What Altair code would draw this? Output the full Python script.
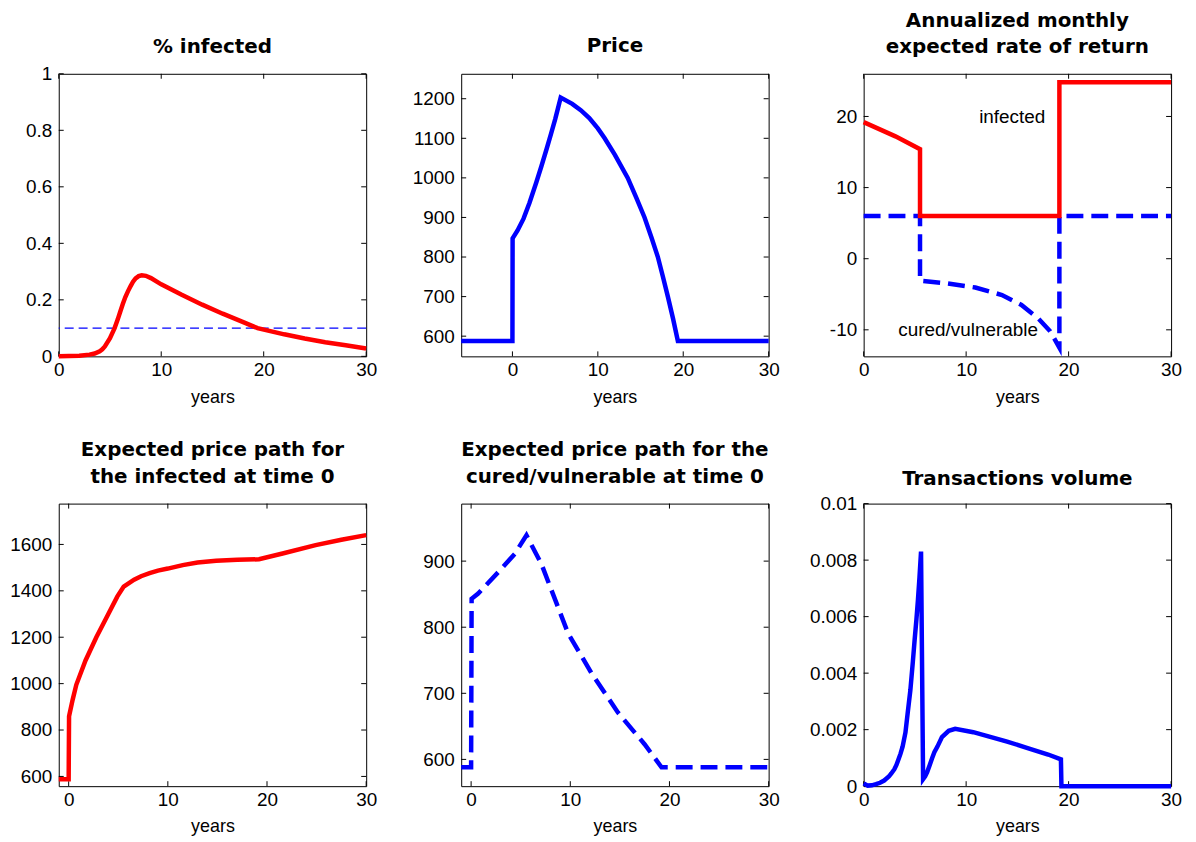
import altair as alt
import pandas as pd

# ---------------- data ----------------
# Panel 1: % infected
inf_t = [0, 1, 2, 3, 3.5, 4, 4.25, 4.5, 5, 5.45, 5.75, 6, 6.25, 6.5, 6.75, 7, 7.25, 7.5, 7.8, 8.1, 8.5, 9, 10,
         12, 14, 16, 18, 19.4, 22, 24, 26, 28, 30]
inf_v = [0.0, 0.001, 0.002, 0.006, 0.01, 0.018, 0.025, 0.035, 0.064, 0.1, 0.13, 0.158, 0.185, 0.21, 0.23, 0.248,
         0.264, 0.276, 0.284, 0.287, 0.285, 0.277, 0.255, 0.218, 0.183, 0.151, 0.121, 0.1, 0.078, 0.063, 0.05,
         0.039, 0.028]
inf_threshold = [0.1]

# Panel 2: Price
price_t = [-6, 0, 0.02, 0.6, 1.3, 2.0, 2.8, 3.4, 4.0, 4.5, 5.0, 5.3, 5.65, 7.0, 8.0, 9.0, 10.0, 10.8, 12.0,
           13.5, 14.5, 15.47, 16.3, 17.03, 17.6, 18.2, 18.8, 19.37, 30]
price_v = [588, 588, 847, 867, 897, 937, 989, 1030, 1073, 1110, 1148, 1173, 1203, 1187, 1171, 1151, 1125, 1100,
           1058, 1000, 950, 900, 848, 800, 752, 700, 645, 588, 588]

# Panel 3: annualized monthly expected rate of return
ret_inf_t = [0, 3.1, 5.5, 5.5, 19.1, 19.1, 30]
ret_inf_v = [19.2, 17.2, 15.4, 6.0, 6.0, 24.8, 24.8]
ret_cur_t = [0, 5.5, 5.5, 8.0, 10.9, 13.5, 15.4, 17.0, 18.2, 19.1, 19.1, 30]
ret_cur_v = [6.0, 6.0, -3.1, -3.45, -4.05, -5.1, -6.5, -8.35, -10.2, -12.5, 6.0, 6.0]
ret_labels = ["infected", "cured/vulnerable"]
ret_label_t = [14.5, 10.2]
ret_label_v = [19.9, -10.0]

# Panel 4: expected price path for the infected at time 0
pi_t = [-1, 0, 0.04, 0.4, 0.77, 1.7, 2.79, 4.0, 4.9, 5.55, 6.6, 7.3, 8.16, 9, 10, 11.5, 13, 14.87, 17, 19.2,
        21.57, 24.9, 27.5, 30]
pi_v = [588, 588, 859, 930, 995, 1100, 1200, 1300, 1375, 1418, 1448, 1463, 1476, 1487, 1496, 1511, 1522, 1530,
        1534, 1536, 1561, 1597, 1620, 1640]

# Panel 5: expected price path for the cured/vulnerable at time 0
pc_t = [-1, 0, 0.05, 0.71, 2.72, 4.4, 5.58, 7.08, 9.77, 12.12, 14.8, 17.49, 19.2, 30]
pc_v = [588, 588, 843, 851, 883, 911, 939, 896, 791, 731, 671, 623, 588, 588]

# Panel 6: transactions volume
tv_t = [0, 0.4, 0.8, 1.2, 1.6, 2.0, 2.2, 2.46, 2.7, 3.0, 3.2, 3.43, 3.6, 3.8, 4.08, 4.3, 4.56, 4.8, 4.98, 5.15,
        5.3, 5.45, 5.6, 5.8, 6.0, 6.2, 6.45, 6.67, 6.9, 7.2, 7.64, 8.3, 8.93, 10.7, 12, 14, 16, 18, 19.25, 19.3, 30]
tv_v = [0.0001, 0.00002, 0.00003, 0.00007, 0.00012, 0.0002, 0.00026, 0.00034, 0.00045, 0.0006, 0.00075,
        0.00098, 0.00115, 0.0014, 0.0019, 0.0026, 0.0034, 0.0044, 0.0052, 0.0059, 0.0066, 0.0074, 0.0083,
        0.00025, 0.00035, 0.0005, 0.00075, 0.00098, 0.0012, 0.0014, 0.00174, 0.00196, 0.00203, 0.00191,
        0.00178, 0.00158, 0.00135, 0.00112, 0.00095, 0.0, 0.0]

# axis ticks
xt_years = [0, 10, 20, 30]
yt_inf = [0, 0.2, 0.4, 0.6, 0.8, 1]
yt_price = [600, 700, 800, 900, 1000, 1100, 1200]
yt_ret = [-10, 0, 10, 20]
yt_pi = [600, 800, 1000, 1200, 1400, 1600]
yt_pc = [600, 700, 800, 900]
yt_tv = [0, 0.002, 0.004, 0.006, 0.008, 0.01]

# ---------------- style ----------------
FONT = "Liberation Sans"
TFONT = "DejaVu Sans"
W, H = 309, 284
TICK = 5
RED = "#ff0000"
BLUE = "#0000ff"
LW = 4.5
DASH = [17, 8]


def series(t, v):
    return pd.DataFrame({"t": t, "v": v, "i": list(range(len(t)))})


def xaxis(vals):
    return alt.Axis(values=vals, title="years", labelExpr="'' + datum.value")


def yaxis(vals):
    return alt.Axis(values=vals, title=None, labelExpr="'' + datum.value")


def tick_layers(xt, yt, xs, ys):
    dx = pd.DataFrame({"v": xt})
    dy = pd.DataFrame({"v": yt})
    r = dict(color="black", strokeWidth=1)
    bottom = alt.Chart(dx).mark_rule(**r).encode(
        x=alt.X("v:Q", scale=xs, axis=xaxis(xt)), y=alt.value(H), y2=alt.value(H - TICK))
    top = alt.Chart(dx).mark_rule(**r).encode(
        x=alt.X("v:Q", scale=xs, axis=xaxis(xt)), y=alt.value(0), y2=alt.value(TICK))
    left = alt.Chart(dy).mark_rule(**r).encode(
        y=alt.Y("v:Q", scale=ys, axis=yaxis(yt)), x=alt.value(0), x2=alt.value(TICK))
    right = alt.Chart(dy).mark_rule(**r).encode(
        y=alt.Y("v:Q", scale=ys, axis=yaxis(yt)), x=alt.value(W), x2=alt.value(W - TICK))
    return [bottom, top, left, right]


def line(df, xs, ys, xt, yt, color, dash=None):
    kw = dict(color=color, strokeWidth=LW)
    if dash is not None:
        kw["strokeDash"] = dash
    return alt.Chart(df).mark_line(**kw).encode(
        x=alt.X("t:Q", scale=xs, axis=xaxis(xt)),
        y=alt.Y("v:Q", scale=ys, axis=yaxis(yt)),
        order=alt.Order("i:Q"),
    )


def panel(title, layers, offset=17):
    return alt.layer(*layers).properties(
        width=W, height=H, title=alt.TitleParams(text=title, offset=offset))


def sc(lo, hi):
    return alt.Scale(domain=[lo, hi], nice=False, zero=False)


# Panel 1
xs1, ys1 = sc(0, 30), sc(0, 1)
p1_thr = alt.Chart(pd.DataFrame({"v": inf_threshold})).mark_rule(
    color=BLUE, strokeWidth=1.3, strokeDash=[9, 5]).encode(y=alt.Y("v:Q", scale=ys1, axis=yaxis(yt_inf)))
p1 = panel("% infected", tick_layers(xt_years, yt_inf, xs1, ys1) + [
    p1_thr, line(series(inf_t, inf_v), xs1, ys1, xt_years, yt_inf, RED)], offset=8)

# Panel 2
xs2, ys2 = sc(-6, 30), sc(549, 1263)
p2 = panel("Price", tick_layers(xt_years, yt_price, xs2, ys2) + [
    line(series(price_t, price_v), xs2, ys2, xt_years, yt_price, BLUE)], offset=17)

# Panel 3
xs3, ys3 = sc(0, 30), sc(-13.73, 26)
p3_text = alt.Chart(pd.DataFrame({"t": ret_label_t, "v": ret_label_v, "lab": ret_labels})).mark_text(
    font=FONT, fontSize=19, color="black", align="center", baseline="middle").encode(
    x=alt.X("t:Q", scale=xs3, axis=xaxis(xt_years)), y=alt.Y("v:Q", scale=ys3, axis=yaxis(yt_ret)),
    text="lab:N")
p3 = panel(["Annualized monthly", "expected rate of return"], tick_layers(xt_years, yt_ret, xs3, ys3) + [
    line(series(ret_cur_t, ret_cur_v), xs3, ys3, xt_years, yt_ret, BLUE, DASH),
    line(series(ret_inf_t, ret_inf_v), xs3, ys3, xt_years, yt_ret, RED),
    p3_text], offset=16)

# Panel 4
xs4, ys4 = sc(-1, 30), sc(558, 1776)
p4 = panel(["Expected price path for", "the infected at time 0"], tick_layers(xt_years, yt_pi, xs4, ys4) + [
    line(series(pi_t, pi_v), xs4, ys4, xt_years, yt_pi, RED)], offset=16)

# Panel 5
xs5, ys5 = sc(-1, 30), sc(559.5, 987)
p5 = panel(["Expected price path for the", "cured/vulnerable at time 0"], tick_layers(xt_years, yt_pc, xs5, ys5) + [
    line(series(pc_t, pc_v), xs5, ys5, xt_years, yt_pc, BLUE, DASH)], offset=16)

# Panel 6
xs6, ys6 = sc(0, 30), sc(0, 0.01)
p6 = panel("Transactions volume", tick_layers(xt_years, yt_tv, xs6, ys6) + [
    line(series(tv_t, tv_v), xs6, ys6, xt_years, yt_tv, BLUE)], offset=6)

chart = alt.concat(
    p1, p2, p3, p4, p5, p6, columns=3, bounds="flush",
    spacing=alt.RowColnumber(row=148, column=95.5),
).properties(
    padding={"left": 1, "top": 0, "right": 5, "bottom": 5},
    background="white",
).configure_view(
    stroke="black", strokeWidth=1,
).configure_axis(
    labelFont=FONT, labelFontSize=19, labelColor="black",
    titleFont=FONT, titleFontSize=18, titleFontWeight="normal", titleColor="black",
    ticks=False, tickSize=0, domain=False, grid=False, labelFlush=False, labelOverlap=False,
).configure_axisX(
    labelPadding=4, titlePadding=9,
).configure_axisY(
    labelPadding=7,
).configure_title(
    font=TFONT, fontSize=20, fontWeight="bold", color="black", anchor="middle",
    frame="group", lineHeight=27, baseline="bottom",
)

chart.save("out.html", embed_options={"renderer": "svg", "actions": False})
